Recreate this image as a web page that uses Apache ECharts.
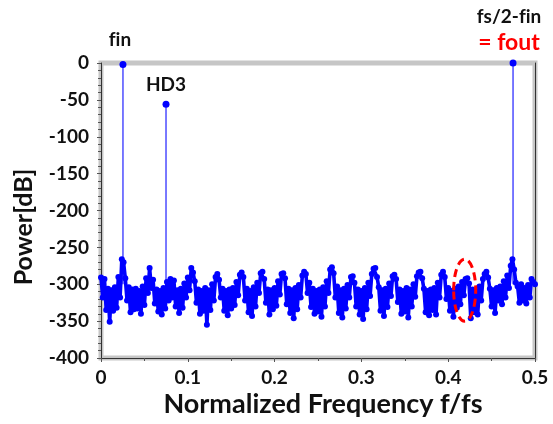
<!DOCTYPE html>
<html>
<head>
<meta charset="utf-8">
<script src="https://cdn.jsdelivr.net/npm/echarts@6/dist/echarts.min.js"></script>
<style>
  html, body { margin: 0; padding: 0; background: #fff; }
  #chart { width: 553px; height: 424px; }
</style>
</head>
<body>
<div id="chart"></div>
<script>
// FFT bin spacing (normalized frequency)
const binWidth = 0.002;

// noise floor, one value per bin (dB)
const noisePower = [
  -291, -318, -293, -335, -306, -351, -308, -336, -304, -332,
  -290, -318, -266, -270, -292, -322, -304, -338, -307, -334,
  -306, -333, -309, -340, -303, -328, -292, -312, -278, -305,
  -294, -326, -307, -337, -309, -341, -305, -333, -297, -322,
  -293, -318, -295, -330, -308, -339, -306, -332, -299, -318,
  -291, -308, -278, -284, -296, -325, -307, -340, -309, -336,
  -305, -355, -308, -335, -300, -322, -290, -286, -294, -318,
  -306, -336, -309, -342, -307, -333, -305, -328, -297, -315,
  -287, -284, -290, -322, -306, -338, -309, -343, -304, -330,
  -298, -312, -285, -283, -293, -325, -307, -341, -308, -334,
  -305, -329, -296, -314, -286, -285, -292, -327, -306, -339,
  -308, -346, -305, -334, -301, -318, -288, -283, -286, -312,
  -298, -331, -306, -340, -309, -337, -307, -344, -304, -330,
  -296, -312, -280, -277, -285, -318, -303, -339, -308, -345,
  -306, -333, -301, -318, -290, -289, -298, -330, -307, -341,
  -309, -347, -305, -334, -298, -316, -286, -279, -278, -290,
  -304, -336, -308, -343, -306, -331, -299, -316, -289, -287,
  -293, -324, -307, -340, -309, -337, -305, -345, -307, -330,
  -300, -317, -289, -284, -283, -292, -306, -338, -309, -342,
  -307, -335, -305, -341, -298, -318, -287, -283, -290, -320,
  -305, -336, -309, -344, -306, -332, -303, -327, -297, -315,
  -293, -292, -299, -346, -307, -338, -309, -341, -303, -322,
  -293, -286, -283, -291, -306, -330, -308, -339, -305, -322,
  -303, -327, -296, -318, -288, -305, -275, -266, -280, -298,
  -303, -325, -300, -322, -305, -326, -301, -318, -293, -297, -300
];

// tones: fin, HD3, fs/2-fin
const toneFreq = [0.0253, 0.0749, 0.4747];
const tonePower = [-2, -56, 0];
const toneNames = ['fin', 'HD3', 'fs/2-fin'];
const stemFloor = -300;

const font = 'Lato';
const chart = echarts.init(document.getElementById('chart'));

// \u200c keeps "fi" from turning into a ligature
const toneLabels = [
  { show: true, position: 'top', distance: 12, offset: [-3, 0], formatter: 'f\u200cin',
    fontSize: 19, fontWeight: 'bold', color: '#111', fontFamily: font },
  { show: true, position: 'top', distance: 6, formatter: 'HD3',
    fontSize: 19, fontWeight: 'bold', color: '#111', fontFamily: font },
  { show: true, position: 'top', distance: 4, offset: [-4, 0],
    formatter: '{a|fs/2-f\u200cin}\n{b|= fout}', fontFamily: font,
    rich: {
      a: { fontSize: 19, fontWeight: 'bold', color: '#111', fontFamily: font, lineHeight: 26 },
      b: { fontSize: 23, fontWeight: 'bold', color: '#ff0000', fontFamily: font, lineHeight: 26 }
    } }
];

const toneSeries = toneFreq.map((f, i) => ({
  name: toneNames[i],
  type: 'line',
  data: [
    { value: [f, stemFloor], symbolSize: 0 },
    { value: [f, tonePower[i]], symbolSize: 7, label: toneLabels[i] }
  ],
  symbol: 'circle',
  showAllSymbol: true,
  lineStyle: { color: '#4d4dff', width: 1.5 },
  itemStyle: { color: '#0000ff' },
  z: 2
}));

const noiseSeries = {
  name: 'noise',
  type: 'line',
  data: noisePower.map((p, i) => [i * binWidth, p]),
  symbol: 'circle',
  symbolSize: 6,
  showAllSymbol: true,
  sampling: null,
  lineStyle: { color: '#0000ff', width: 3.6, join: 'round' },
  itemStyle: { color: '#0000ff' },
  z: 3
};

chart.setOption({
  animation: false,
  grid: {
    left: 101, right: 18, top: 63, bottom: 66,
    show: true, borderColor: '#c6c6c6', borderWidth: 5
  },
  xAxis: {
    type: 'value', min: 0, max: 0.5, interval: 0.1,
    axisLine: { show: true, onZero: false, lineStyle: { color: '#333', width: 1 } },
    axisTick: { show: true, inside: false, length: 4, lineStyle: { color: '#555' } },
    minorTick: { show: true, splitNumber: 2, length: 3, lineStyle: { color: '#555' } },
    splitLine: { show: false },
    axisLabel: { margin: 10, fontSize: 19, fontWeight: 'bold', color: '#111', fontFamily: font }
  },
  yAxis: [{
    type: 'value', min: -400, max: 0, interval: 50,
    axisLine: { show: true, lineStyle: { color: '#333', width: 1 } },
    axisTick: { show: true, inside: false, length: 4, lineStyle: { color: '#555' } },
    minorTick: { show: true, splitNumber: 5, length: 3, lineStyle: { color: '#555' } },
    splitLine: { show: false },
    axisLabel: { margin: 12, fontSize: 19, fontWeight: 'bold', color: '#111', fontFamily: font }
  }, {
    type: 'value', min: -400, max: 0, interval: 50, position: 'right',
    axisLine: { show: true, lineStyle: { color: '#333', width: 1 } },
    axisTick: { show: false }, axisLabel: { show: false }, splitLine: { show: false }
  }],
  graphic: [
    { type: 'text', x: 24, y: 227, rotation: Math.PI / 2,
      style: { text: 'Power[dB]', fontSize: 25, fontWeight: 'bold', fontFamily: font,
               fill: '#111', align: 'center', verticalAlign: 'middle' } },
    { type: 'text', x: 323, y: 404,
      style: { text: 'Normalized Frequency f/fs', fontSize: 27, fontWeight: 'bold',
               fontFamily: font, fill: '#111', align: 'center', verticalAlign: 'middle' } }
  ],
  series: [...toneSeries, noiseSeries]
});

// red dashed ellipse around the spur region near 0.42
const c = chart.convertToPixel({ gridIndex: 0 }, [0.419, -308]);
const e = chart.convertToPixel({ gridIndex: 0 }, [0.419 + 0.0127, -308 + 42]);
chart.setOption({
  graphic: [{}, {}, {
    type: 'ellipse',
    shape: { cx: c[0], cy: c[1], rx: Math.abs(e[0] - c[0]), ry: Math.abs(c[1] - e[1]) },
    style: { fill: 'none', stroke: '#ff0000', lineWidth: 3, lineDash: [8, 5] },
    z: 10
  }]
});
</script>
</body>
</html>
